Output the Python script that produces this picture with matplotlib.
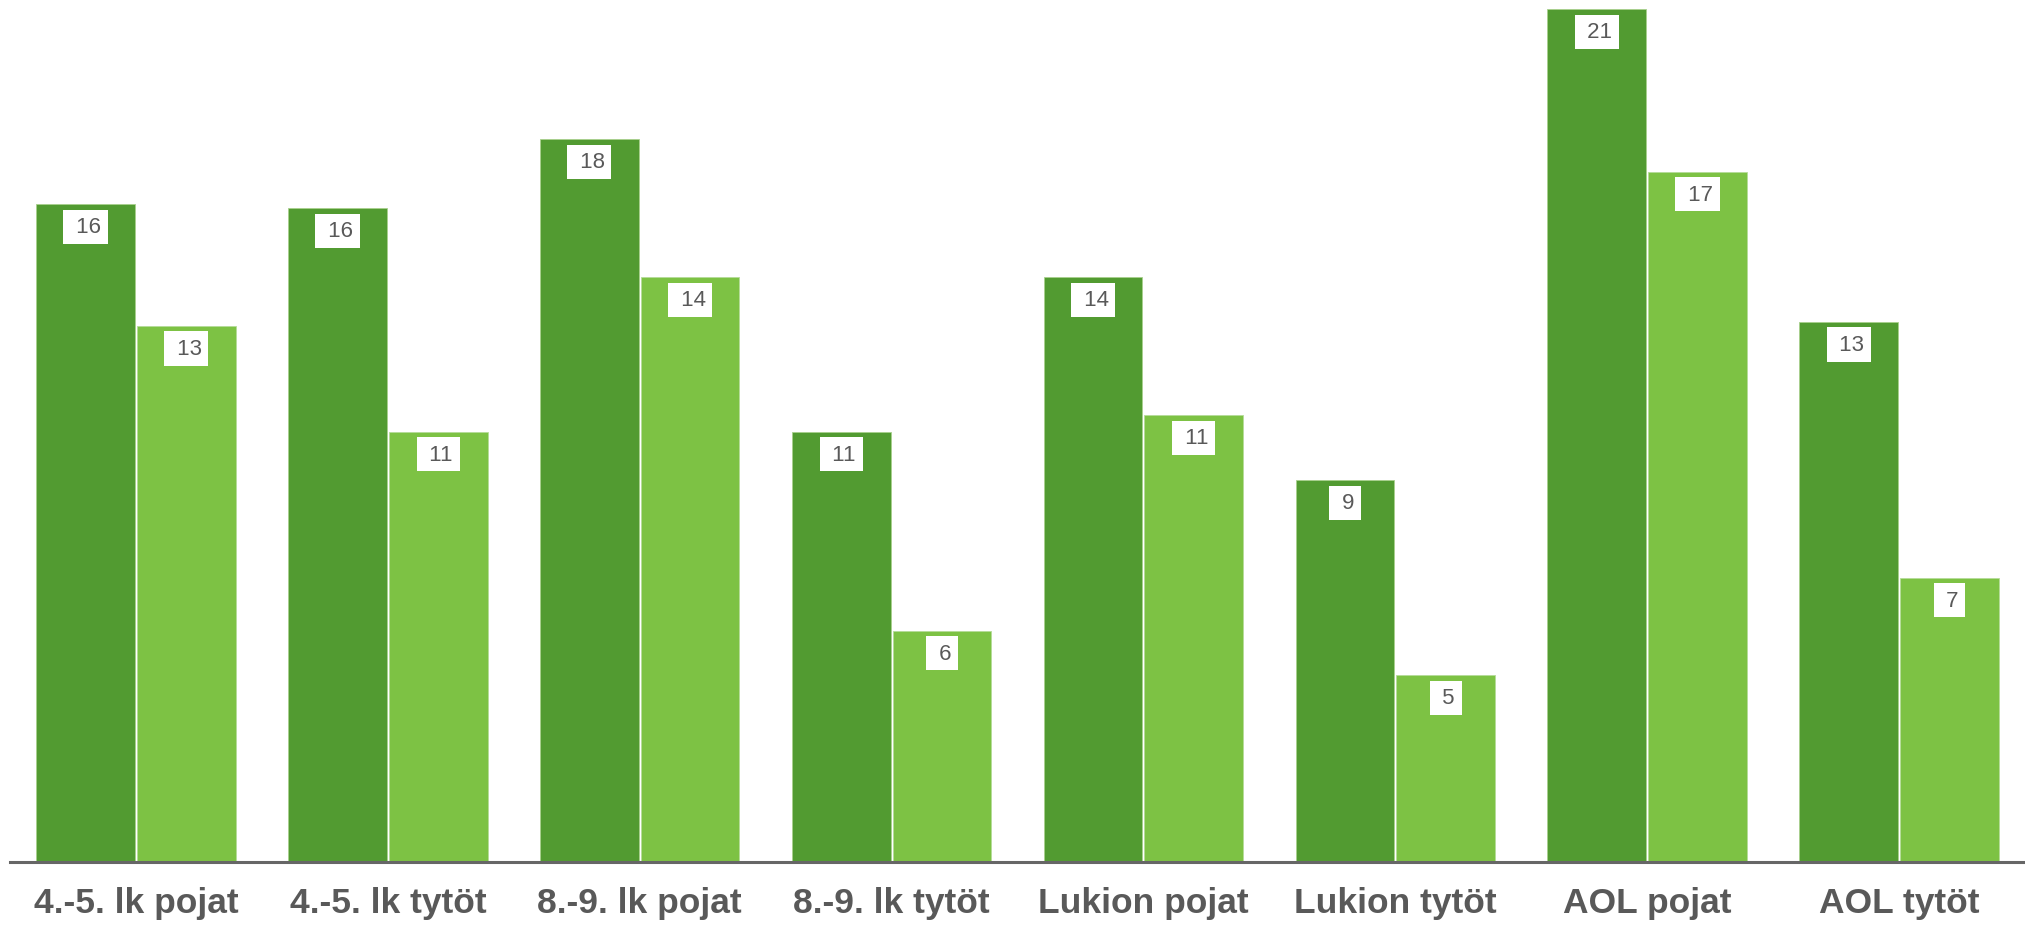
import numpy as np
import matplotlib
matplotlib.use("Agg")
import matplotlib.pyplot as plt

groups = ["4.-5. lk pojat", "4.-5. lk tytöt", "8.-9. lk pojat", "8.-9. lk tytöt",
          "Lukion pojat", "Lukion tytöt", "AOL pojat", "AOL tytöt"]
dark_vals = [16.2, 16.1, 17.8, 10.6, 14.4, 9.4, 21.0, 13.3]
light_vals = [13.2, 10.6, 14.4, 5.7, 11.0, 4.6, 17.0, 7.0]

DARK = "#529B31"
LIGHT = "#7DC244"
TEXT = "#595959"

plt.rcParams['font.family'] = ['Liberation Sans', 'DejaVu Sans']

fig = plt.figure(figsize=(20.25, 9.29), dpi=100)
ax = fig.add_axes([10 / 2025, 66 / 929, 1 - 10 / 2025, 863 / 929])

x = np.arange(len(groups))
w = 0.392
gap = 0.004
b1 = ax.bar(x - w / 2 - gap, dark_vals, w, color=DARK, edgecolor="#A8D08D", linewidth=0.6)
b2 = ax.bar(x + w / 2 + gap, light_vals, w, color=LIGHT, edgecolor="#B5DC99", linewidth=0.6)

# value labels in white boxes just below the bar tops
for bars, vals in ((b1, dark_vals), (b2, light_vals)):
    for rect, v in zip(bars, vals):
        ax.annotate(f" {v:.0f}", (rect.get_x() + rect.get_width() / 2, v),
                    xytext=(0, -12), textcoords="offset pixels",
                    ha="center", va="top", fontsize=16, color=TEXT,
                    bbox=dict(boxstyle="square,pad=0.3", fc="white", ec="none"))

ax.set_xlim(-0.5, 7.5)
ax.set_ylim(0, 863 / 40.6)
ax.set_yticks([])
ax.set_xticks(x)
ax.set_xticklabels(groups, fontsize=25.5, fontweight="bold", color=TEXT)
ax.tick_params(axis="x", length=0, pad=17)
for s in ("top", "right", "left"):
    ax.spines[s].set_visible(False)
ax.spines["bottom"].set_color("#666666")
ax.spines["bottom"].set_linewidth(2.2)
ax.set_facecolor("white")

fig.savefig("out.png", dpi=100, facecolor="white")
